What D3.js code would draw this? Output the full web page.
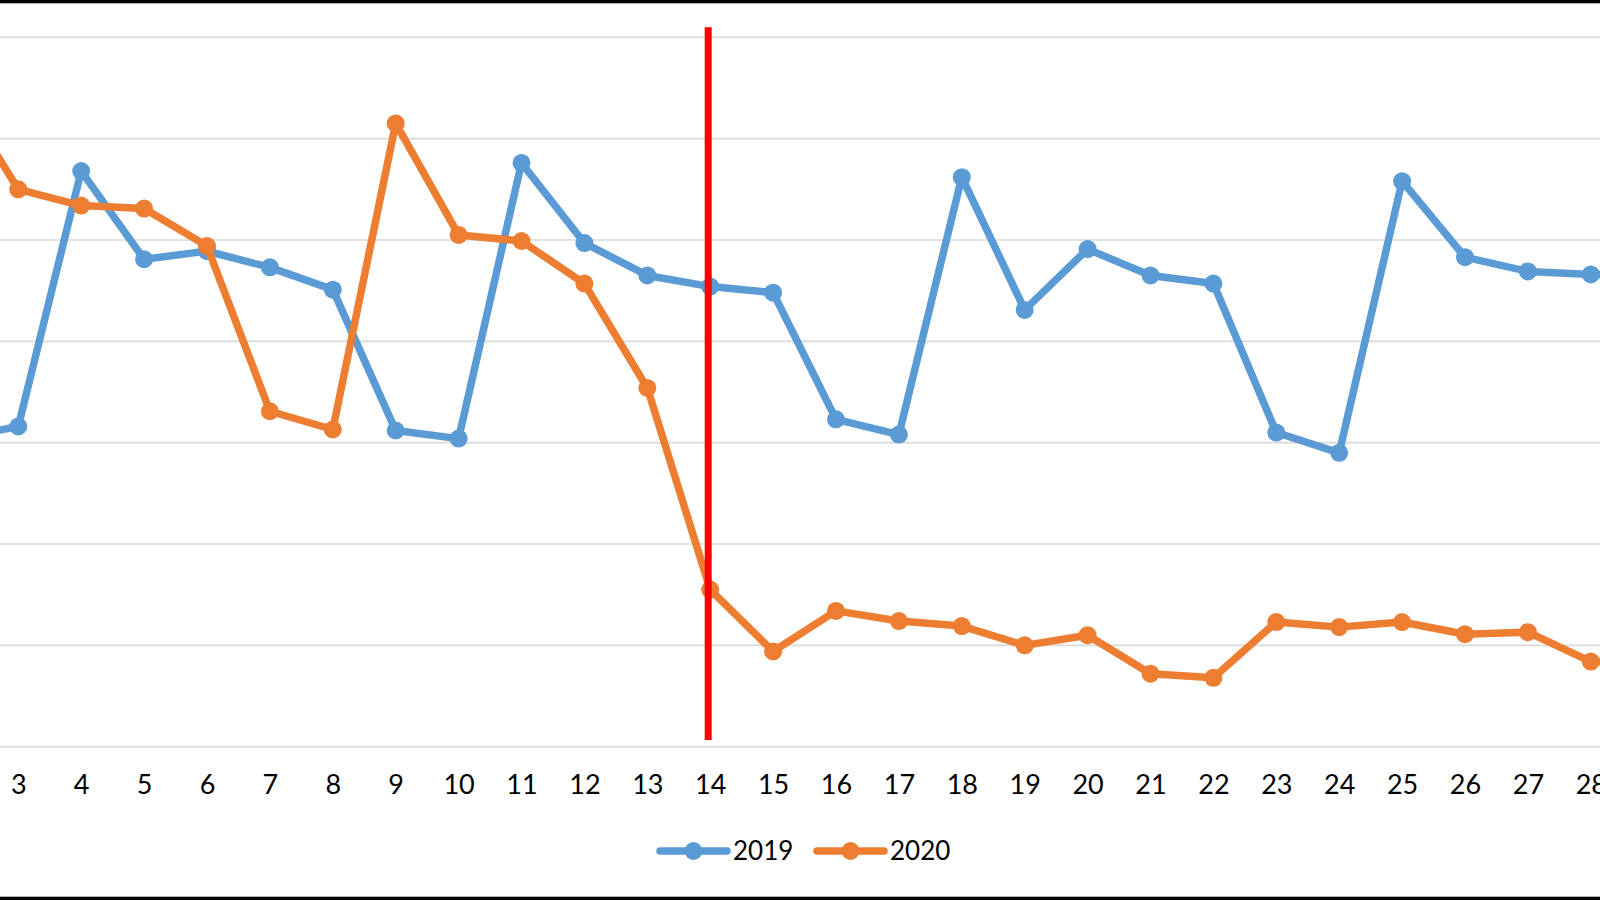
<!DOCTYPE html>
<html>
<head>
<meta charset="utf-8">
<script src="https://cdn.jsdelivr.net/npm/d3@7"></script>
<style>
  html, body { margin: 0; padding: 0; background: #fff; overflow: hidden; }
  svg { display: block; }
</style>
</head>
<body>
<div id="chart"></div>
<script>
// days of the month (2 and 29 sit just outside the visible frame)
var days = [2, 3, 4, 5, 6, 7, 8, 9, 10, 11, 12, 13, 14, 15, 16, 17, 18, 19, 20, 21, 22, 23, 24, 25, 26, 27, 28, 29];
var dayLabels = [3, 4, 5, 6, 7, 8, 9, 10, 11, 12, 13, 14, 15, 16, 17, 18, 19, 20, 21, 22, 23, 24, 25, 26, 27, 28];
var values2019 = [30.4, 31.6, 56.8, 48.1, 48.9, 47.3, 45.1, 31.2, 30.4, 57.6, 49.7, 46.5, 45.4, 44.8, 32.3, 30.8, 56.2, 43.1, 49.1, 46.5, 45.7, 31.0, 29.0, 55.8, 48.3, 46.9, 46.6, 46.5];
var values2020 = [65.0, 55.0, 53.4, 53.1, 49.4, 33.1, 31.3, 61.5, 50.5, 49.9, 45.7, 35.4, 15.5, 9.4, 13.4, 12.4, 11.9, 10.0, 11.0, 7.2, 6.8, 12.3, 11.8, 12.3, 11.1, 11.3, 8.4, 8.5];
var seriesNames = ['2019', '2020'];
var gridValues = [0, 10, 20, 30, 40, 50, 60, 70];
var markerDay = 14;

var W = 1600, H = 900;
var colors = { '2019': '#5B9BD5', '2020': '#ED7D31' };

var svg = d3.select('#chart').append('svg')
  .attr('width', W).attr('height', H);

svg.append('rect').attr('width', W).attr('height', H).attr('fill', '#fff');

var x = d3.scaleLinear().domain([3, 28]).range([18.3, 1590.8]);
var y = d3.scaleLinear().domain([0, 70]).range([746.7, 37.3]);

// gridlines
svg.append('g').selectAll('line').data(gridValues).enter().append('line')
  .attr('x1', 0).attr('x2', W)
  .attr('y1', function(d) { return y(d); })
  .attr('y2', function(d) { return y(d); })
  .attr('stroke', '#D9D9D9').attr('stroke-width', 1.6);

// x axis labels
var xAxis = d3.axisBottom(x).tickValues(dayLabels).tickSize(0).tickPadding(0)
  .tickFormat(d3.format('d'));
var ax = svg.append('g').attr('transform', 'translate(0,' + y(0) + ')').call(xAxis);
ax.select('.domain').remove();
ax.selectAll('text')
  .attr('y', 38).attr('dy', '0.35em')
  .attr('fill', '#000')
  .style('font-family', 'Lato, "Open Sans", sans-serif')
  .style('font-size', '27px');

var line = d3.line()
  .x(function(d) { return x(d.day); })
  .y(function(d) { return y(d.v); });

var series = [
  { name: '2019', vals: values2019 },
  { name: '2020', vals: values2020 }
];

series.forEach(function(s) {
  var pts = days.map(function(d, i) { return { day: d, v: s.vals[i] }; });
  var g = svg.append('g');
  g.append('path').datum(pts)
    .attr('d', line)
    .attr('fill', 'none')
    .attr('stroke', colors[s.name])
    .attr('stroke-width', 7.5)
    .attr('stroke-linejoin', 'round');
  g.selectAll('circle').data(pts).enter().append('circle')
    .attr('cx', function(d) { return x(d.day); })
    .attr('cy', function(d) { return y(d.v); })
    .attr('r', 9)
    .attr('fill', colors[s.name]);
});

// red vertical marker
svg.append('line')
  .attr('x1', x(markerDay) - 2).attr('x2', x(markerDay) - 2)
  .attr('y1', y(71)).attr('y2', y(0.65))
  .attr('stroke', '#FF0000').attr('stroke-width', 7);

// legend
var legend = svg.append('g').attr('transform', 'translate(660,851)');
var lg = legend.selectAll('g').data(seriesNames).enter().append('g')
  .attr('transform', function(d, i) { return 'translate(' + (i * 157) + ',0)'; });
lg.append('line')
  .attr('x1', 0).attr('x2', 67).attr('y1', 0).attr('y2', 0)
  .attr('stroke', function(d) { return colors[d]; })
  .attr('stroke-width', 7.5).attr('stroke-linecap', 'round');
lg.append('circle').attr('cx', 33.5).attr('cy', 0).attr('r', 9)
  .attr('fill', function(d) { return colors[d]; });
lg.append('text').attr('x', 73).attr('y', 0).attr('dy', '0.35em')
  .text(function(d) { return d; })
  .attr('fill', '#000')
  .style('font-family', 'Lato, "Open Sans", sans-serif')
  .style('font-size', '26px');

// black frame strips at top and bottom
svg.append('rect').attr('x', 0).attr('y', 0).attr('width', W).attr('height', 3.3).attr('fill', '#000');
svg.append('rect').attr('x', 0).attr('y', 896.7).attr('width', W).attr('height', 3.3).attr('fill', '#000');
</script>
</body>
</html>
